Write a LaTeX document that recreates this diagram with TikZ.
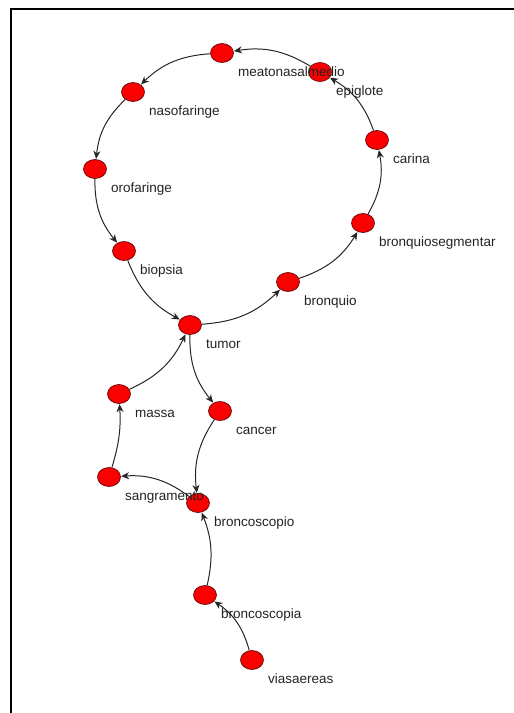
\documentclass[tikz,border=0pt]{standalone}
\usepackage{fontspec}
\setmainfont{Liberation Sans}
\usetikzlibrary{arrows.meta,shapes.geometric,calc}
\definecolor{nodered}{RGB}{250,0,0}
\definecolor{rimcol}{RGB}{100,10,10}
\definecolor{inkcol}{RGB}{35,35,35}
\tikzset{
  vert/.style={ellipse, draw=rimcol, line width=0.7pt, fill=nodered,
    minimum width=23pt, minimum height=19pt, inner sep=0pt},
  tag/.style={anchor=base west, inner sep=0pt, text=inkcol,
    font=\fontsize{13.5}{14}\selectfont},
  link/.style={draw=black!85, line width=1pt,
    -{Stealth[length=8pt,width=7pt,inset=2.5pt]}, bend right=#1, shorten >=0.3pt},
  link/.default=20
}
\begin{document}
\begin{tikzpicture}[x=1pt,y=-1pt]
  \useasboundingbox (0,0) rectangle (514,713);
  % frame
  \draw[line width=2pt] (10.5,713) -- (10.5,9) -- (514,9);

  % nodes
  \node[vert] (meato) at (222,53) {};
  \node[vert] (epig)  at (320,72) {};
  \node[vert] (naso)  at (133,92) {};
  \node[vert] (car)   at (377,140) {};
  \node[vert] (oro)   at (95,169) {};
  \node[vert] (bseg)  at (363,223) {};
  \node[vert] (biop)  at (124,251) {};
  \node[vert] (bronq) at (288,282) {};
  \node[vert] (tum)   at (190,325) {};
  \node[vert] (mas)   at (119,394) {};
  \node[vert] (canc)  at (220,411) {};
  \node[vert] (sang)  at (109,477) {};
  \node[vert] (bscpo) at (198,503) {};
  \node[vert] (bscpa) at (205,595) {};
  \node[vert] (vias)  at (252,660) {};

  % edges
  \draw[link] (meato) to (naso);
  \draw[link] (epig)  to (meato);
  \draw[link] (car)   to (epig);
  \draw[link] (naso)  to (oro);
  \draw[link] (bseg)  to (car);
  \draw[link] (oro)   to (biop);
  \draw[link] (biop)  to (tum);
  \draw[link] (tum)   to (bronq);
  \draw[link] (bronq) to (bseg);
  \draw[link] (mas)   to (tum);
  \draw[link] (tum)   to (canc);
  \draw[link] (canc)  to (bscpo);
  \draw[link] (bscpo) to (sang);
  \draw[link=10] (sang)  to (mas);
  \draw[link=17] (bscpa) to (bscpo);
  \draw[link] (vias)  to (bscpa);

  % labels
  \node[tag] (meato-t) at ($(meato)+(16,23.5)$) {meatonasalmedio};
  \node[tag] (epig-t)  at ($(epig)+(16,23.5)$) {epiglote};
  \node[tag] (naso-t)  at ($(naso)+(16,23.5)$) {nasofaringe};
  \node[tag] (car-t)   at ($(car)+(16,23.5)$) {carina};
  \node[tag] (oro-t)   at ($(oro)+(16,23.5)$) {orofaringe};
  \node[tag] (bseg-t)  at ($(bseg)+(16,23.5)$) {bronquiosegmentar};
  \node[tag] (biop-t)  at ($(biop)+(16,23.5)$) {biopsia};
  \node[tag] (bronq-t) at ($(bronq)+(16,23.5)$) {bronquio};
  \node[tag] (tum-t)   at ($(tum)+(16,23.5)$) {tumor};
  \node[tag] (mas-t)   at ($(mas)+(16,23.5)$) {massa};
  \node[tag] (canc-t)  at ($(canc)+(16,23.5)$) {cancer};
  \node[tag] (sang-t)  at ($(sang)+(16,23.5)$) {sangramento};
  \node[tag] (bscpo-t) at ($(bscpo)+(16,23.5)$) {broncoscopio};
  \node[tag] (bscpa-t) at ($(bscpa)+(16,23.5)$) {broncoscopia};
  \node[tag] (vias-t)  at ($(vias)+(16,23.5)$) {viasaereas};
\end{tikzpicture}
\end{document}
